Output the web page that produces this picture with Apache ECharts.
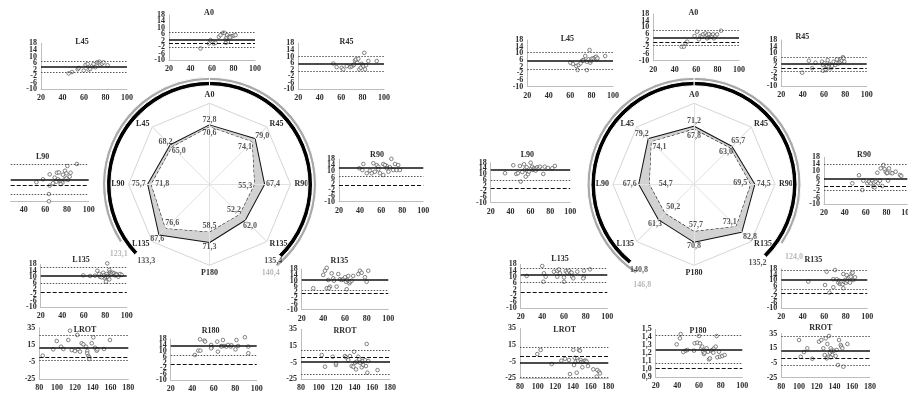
<!DOCTYPE html>
<html>
<head>
<meta charset="utf-8">
<script src="https://cdn.jsdelivr.net/npm/echarts@6/dist/echarts.min.js"></script>
<style>
  html, body { margin: 0; padding: 0; background: #fff; }
  #chart { width: 908px; height: 394px; }
</style>
</head>
<body>
<div id="chart"></div>
<script>
// ---------- radar data (axis order follows the radar, counter-clockwise from the top) ----------
const radarAxes = ['A0', 'L45', 'L90', 'L135', 'P180', 'R135', 'R90', 'R45'];

const leftOuter = [72.8, 68.2, 75.7, 87.6, 71.3, 62.0, 67.4, 79.0];
const leftInner = [70.6, 65.0, 71.8, 76.6, 58.5, 52.2, 55.3, 74.1];
const leftBlackArc = [133.3, 135.4];   // [left side, right side] in degrees from the top
const leftGrayArc = [123.1, 140.4];

const rightOuter = [71.2, 79.2, 67.6, 61.3, 70.8, 82.8, 74.5, 65.7];
const rightInner = [67.8, 74.1, 54.7, 50.2, 57.7, 73.1, 69.5, 63.0];
const rightBlackArc = [140.8, 135.2];
const rightGrayArc = [146.8, 124.0];

// ---------- axis ticks ----------
const diffYTicks = [-10, 18, 4];      // min, max, step
const rotYTicks = [-25, 35, 20];
const ratioYTicks = [0.9, 1.5, 0.1];
const meanXTicks = [20, 100, 20];
const rotXTicks = [80, 180, 20];
const clippedXLabels = [40, 60, 80, 100];

// ---------- Bland-Altman plots: points [mean, difference], lines [bias, upper LoA, lower LoA, reference] ----------
const leftL45Pts = [[45.7,-0.3],[48.8,0.5],[54.1,2.2],[55,3.0],[59.7,1.4],[61.5,4.8],[63.4,5.4],[64.3,2.0],[65.8,2.4],[67.4,4.0],[68.9,5.4],[70.5,3.4],[72,6.4],[73.6,6.0],[74.5,6.8],[75.1,5.0],[76.7,5.6],[78.2,6.4],[81.9,4.6]];
const leftL45Lines = [3.8, 7.3, 0.3, null];

const leftA0Pts = [[49.3,-2.8],[57.1,0.3],[58.6,2.4],[61.7,0.3],[63.3,0.7],[66.4,4.4],[67.9,5.5],[70.4,6.9],[71.6,6.9],[72.6,2.8],[73.5,4.0],[74.1,5.5],[74.8,1.3],[75.7,4.4],[77.3,4.8],[78.8,4.8],[80.4,5.3],[81.9,5.5],[72.9,0.7],[76.7,4.0]];
const leftA0Lines = [2.9, 7.2, -1.9, 0.4];

const leftR45Pts = [[52.7,5.7],[55.8,3.5],[60.5,3.1],[62.0,2.1],[65.2,4.1],[68.3,3.5],[69.9,3.9],[71.4,4.7],[72.0,5.1],[72.9,7.6],[73.9,8.2],[75.1,6.1],[76.0,8.6],[77.0,2.1],[78.3,3.1],[79.2,5.5],[80.1,4.7],[80.7,4.1],[81.6,12.2],[82.3,2.1],[83.2,4.7],[85.4,7.2],[93.2,7.2]];
const leftR45Lines = [5.4, 9.9, 0.7, null];

const leftL90Pts = [[89.1,12.7],[80.3,11.5],[64,6.4],[70.7,7.4],[72.5,7.6],[78.1,8.6],[79.4,7.0],[83.3,7.4],[76.2,6.2],[82.4,5.0],[68.6,4.4],[57.8,3.4],[51.7,1.6],[71.6,3.4],[73.2,2.5],[74.7,1.9],[75.7,1.3],[74.1,0.5],[67.0,1.0],[80.8,3.0],[77.8,3.4],[64.0,-0.5],[63.3,-5.6],[63.3,-10],[70.1,1.9],[79.4,4.0]];
const leftL90Lines = [3.0, 12.5, -5.5, -0.5];

const leftR90Pts = [[69.7,18.3],[43.1,14.9],[39.3,12.1],[52.6,15.4],[55.8,14.2],[57.3,13.1],[62.0,14.9],[65.3,13.6],[46.3,8.8],[49.4,10.5],[51.0,8.8],[54.1,9.8],[57.3,11.4],[58.9,8.8],[63.6,14.2],[65.3,12.1],[68.4,12.7],[71.5,10.9],[73.1,14.9],[74.6,10.9],[76.2,14.2],[77.8,10.9],[66.9,9.8],[62.0,7.6],[42.2,10.9]];
const leftR90Lines = [12.5, 18.5, 6.5, 0.6];

const leftL135Pts = [[59.6,10.8],[65.9,10.4],[70.5,10.6],[72.7,13.8],[74.5,11.7],[75.2,9.9],[76.7,9.5],[78.2,12.5],[78.9,10.8],[79.8,8.9],[80.7,9.9],[81.4,11.7],[81.9,10.4],[82.9,9.5],[83.8,14.3],[84.5,12.8],[85.1,12.1],[86.0,11.7],[87.0,12.5],[88.2,12.1],[89.1,10.8],[90.0,11.7],[90.7,11.1],[92.2,9.9],[93.8,11.7],[95.3,11.1],[81.9,18.6],[83.8,8.2],[80.7,6.7]];
const leftL135Lines = [10.8, 16.0, 5.4, -0.3];

const leftR135Pts = [[30.7,4.7],[39.9,13.9],[41.5,16.8],[43.1,18.8],[44.6,10.4],[46.1,5.8],[49.2,11.6],[49.8,9.9],[52.3,5.8],[53.8,14.5],[55.4,10.9],[56.9,10.4],[58.4,10.9],[60.0,12.3],[60.9,9.2],[61.6,4.0],[62.1,10.4],[63.0,13.2],[64.0,8.1],[64.6,9.2],[66.2,9.9],[67.6,13.2],[72.3,14.5],[73.8,16.8],[75.4,15.4],[78.4,12.3],[80.0,9.2],[81.5,16.8],[43.1,4.7],[45.2,4.7],[47.7,15.0]];
const leftR135Lines = [10.9, 18.8, 3.0, 1.2];

const leftLROTPts = [[83.8,2.3],[95.7,9.7],[99.6,19.4],[104.4,12.8],[107.0,10.1],[112.6,20.6],[114.5,31.5],[116.4,8.9],[120.1,7.7],[122.7,26.5],[123.8,9.7],[125.7,7.0],[127.6,16.8],[129.5,15.6],[132.5,12.8],[133.9,7.7],[133.9,5.0],[135.1,1.9],[136.2,0.4],[136.2,-1.6],[138.9,16.8],[140.7,23.8],[142.6,11.6],[144.5,8.1],[145.2,9.7],[152.7,10.1],[159.4,20.6]];
const leftLROTLines = [11.6, 26.5, -3.6, 0.4];

const leftR180Pts = [[42.5,7.2],[45.7,10.2],[47.6,10.2],[47.3,18],[51.4,17.1],[52.0,16.4],[57.6,14.1],[58.3,12.5],[63.3,16.4],[63.9,9.5],[67.1,13.4],[68.6,17.5],[69.6,13.4],[71.8,13.0],[73.3,14.1],[75.8,13.0],[76.5,13.9],[80.2,11.1],[81.2,17.5],[82.7,13.4],[89.0,19.4],[92.2,13.0],[92.2,8.4],[57.6,11.8],[67.1,13.0]];
const leftR180Lines = [13.4, 19.4, 7.2, 0.8];

const leftRROTPts = [[103.3,4.1],[107.0,-9.9],[115.6,2.1],[119.3,-7.9],[119.3,-5.9],[129.4,2.9],[130.6,1.4],[133.1,-1.9],[135.0,2.9],[136.9,-9.1],[138.8,-9.9],[139.6,8.1],[140.7,-5.1],[141.8,-13.1],[142.6,-3.9],[144.4,2.1],[145.5,-1.0],[146.3,-5.1],[148.2,-10.6],[149.3,-3.1],[150.0,-7.9],[151.9,-1.9],[153.0,-9.1],[153.8,17.4],[154.5,-17.1],[155.6,-3.1],[166,-13.9]];
const leftRROTLines = [-4.2, 10.1, -19.0, 0.9];

const rightL45Pts = [[60.2,4.4],[62.6,3.6],[65.8,2.4],[67.9,3.0],[71.0,5.6],[72.5,6.0],[74.1,8.4],[75.6,0.0],[75.6,5.0],[77.2,6.4],[78.1,12.0],[78.8,4.4],[79.3,5.6],[80.2,6.8],[81.8,7.0],[83.4,7.6],[84.3,8.0],[84.9,6.4],[85.5,7.0],[92.7,8.4],[72.2,5.6],[69.7,4.0],[67.0,0.0]];
const rightL45Lines = [5.4, 10.4, 0.4, null];

const rightA0Pts = [[46.4,-1.6],[48.6,-1.6],[50.1,0.4],[51.6,1.4],[58.5,4.8],[60.9,7.4],[62.5,2.8],[64.1,4.8],[65.6,4.4],[66.5,5.8],[68.7,6.4],[70.2,5.4],[71.8,4.0],[72.7,4.8],[73.4,5.4],[74.9,4.4],[75.8,5.8],[76.5,3.4],[78.0,4.8],[79.5,5.8],[83.3,8.0],[70.2,3.4],[71.8,6.0]];
const rightA0Lines = [3.8, 8.0, -0.6, 0.8];

const rightR45Pts = [[39.5,-1.9],[45.8,5.4],[48.9,0.8],[52.0,4.2],[58.2,4.8],[59.1,2.8],[60.4,3.8],[62.2,-0.3],[62.8,2.2],[63.4,5.8],[64.4,1.8],[65.3,3.4],[66.5,0.8],[67.4,2.2],[69.0,4.8],[70.6,2.8],[71.5,4.2],[72.1,6.2],[73.7,3.8],[75.3,4.8],[75.8,6.2],[76.7,5.4],[77.7,7.5],[78.3,6.9],[79.0,4.8],[59.1,-0.7],[61.3,0.2]];
const rightR45Lines = [3.4, 7.8, -1.3, 0.8];

const rightL90Pts = [[34.4,10.6],[42.7,16.2],[45.7,10.1],[47.4,10.6],[49.4,15.7],[51.8,11.5],[53.5,16.9],[54.5,13.3],[56.2,14.8],[56.8,12.2],[57.5,9.9],[58.5,11.7],[60.2,18],[60.8,14.1],[61.8,15.2],[62.5,12.9],[63.5,14.1],[64.2,13.3],[65.2,12.4],[66.2,13.8],[66.8,14.8],[68.5,14.1],[72.9,10.1],[74.3,15.2],[77.6,14.3],[81.9,14.1],[84.6,15.7],[50.2,4.7],[55.2,8.2],[69.6,15.2]];
const rightL90Lines = [13.3, null, 5.4, 0.1];

const rightR90Pts = [[47.2,2.5],[53.6,7.3],[56.8,-1.5],[57.8,4.1],[61.6,2.5],[63.2,3.5],[64.9,2.5],[66.4,4.1],[67.4,0.5],[68.0,2.9],[68.7,0.1],[69.7,3.5],[71.2,8.8],[71.9,2.5],[73.8,4.1],[74.5,11.4],[76.0,0.9],[77.0,13.4],[78.3,10.9],[79.3,9.4],[80.2,8.5],[80.8,8.8],[81.5,4.1],[82.4,11.4],[84.1,8.8],[85.6,8.5],[88.8,9.4],[93.0,7.5],[94.2,6.9]];
const rightR90Lines = [5.2, 13.8, -1.9, 0.5];

const rightL135Pts = [[25.5,10.6],[39.9,16.9],[41.5,12.3],[43.1,10.1],[50.7,13.3],[53.8,13.9],[55.4,14.8],[56.3,12.3],[61.6,13.7],[63.0,12.7],[64.6,13.9],[66.2,12.7],[72.3,13.3],[78.4,13.9],[84.0,14.8],[53.8,10.1],[60.0,9.7],[67.6,10.1],[78.4,10.1],[40.9,6.9],[60.0,6.9],[67.1,12.7],[68.6,9.1],[77.8,9.1]];
const rightL135Lines = [11.2, 15.8, 6.4, 0.4];

const rightR135Pts = [[45.1,9.0],[60.7,6.6],[62.2,16.1],[64.7,1.2],[68.4,10.7],[70.0,17.3],[71.5,10.7],[73.0,8.3],[74.0,9.7],[74.6,7.3],[75.3,8.3],[76.2,9.0],[77.1,7.1],[77.7,14.4],[78.3,9.0],[79.3,10.2],[80.2,8.3],[80.8,13.7],[81.4,9.7],[82.3,11.4],[83.3,12.1],[83.9,8.3],[84.6,12.5],[85.5,14.9],[86.4,15.4],[87.0,10.2],[88.6,12.1],[77.7,4.3],[68.4,5.0]];
const rightR135Lines = [10.2, 17.3, 3.6, 0.7];

const rightLROTPts = [[99.6,4.1],[103.4,9.0],[115.9,-7.9],[126.8,-3.9],[131.0,-1.5],[135.5,-3.0],[136.6,-19.9],[140.4,9.0],[141.2,-9.1],[142.0,-0.3],[143.1,-5.1],[144.2,-18.3],[144.9,-1.0],[145.7,-3.9],[146.8,9.0],[147.9,8.1],[148.7,-3.0],[149.4,-5.5],[150.6,-11.8],[151.7,-5.1],[153.3,-3.9],[154.4,-3.9],[155.5,-5.1],[157.0,-10.3],[163.0,-14.2],[167.5,-15.0],[166.9,-23.1],[169.5,-17.1],[170.6,-19.1]];
const rightLROTLines = [-5.8, 11.7, -24.3, 0.9];

const rightP180Pts = [[39.4,1.312],[42.4,1.387],[43.1,1.441],[45.5,1.216],[47.7,1.233],[49.2,1.241],[55.4,1.233],[56.0,1.325],[58.4,1.333],[60.0,1.416],[60.9,1.325],[62.1,1.262],[63.0,1.283],[64.0,1.220],[64.6,1.191],[65.2,1.208],[66.2,1.241],[67.1,1.262],[68.3,1.220],[69.2,1.125],[70.1,1.137],[71.3,1.233],[72.3,1.241],[73.2,1.208],[73.8,1.262],[75.4,1.283],[76.3,1.416],[76.9,1.150],[78.4,1.220],[79.4,1.158],[81.5,1.166],[83.7,1.179]];
const rightP180Lines = [1.245, 1.416, 1.075, 1.012];

const rightRROTPts = [[100.0,26.4],[101.9,3.6],[105.6,10.0],[109.3,15.1],[115.0,0.9],[122.5,24.1],[125.1,26.4],[127.4,15.1],[128.9,5.9],[130.1,28.7],[131.9,21.0],[132.7,3.6],[133.8,31.9],[134.9,9.1],[135.7,15.1],[136.4,11.8],[137.5,5.9],[139.4,11.8],[141.3,4.6],[142.5,12.8],[143.9,-7.7],[145.1,26.4],[147.0,19.6],[147.7,17.3],[148.8,15.1],[150.0,-10.0],[154.5,21.0],[135.7,2.8],[131.2,1.4]];
const rightRROTLines = [11.8, 31.7, -8.1, 1.4];

const PLOTS = [
  { title: 'L45',  pts: leftL45Pts,   lines: leftL45Lines,   y: diffYTicks,  x: meanXTicks },
  { title: 'A0',   pts: leftA0Pts,    lines: leftA0Lines,    y: diffYTicks,  x: meanXTicks },
  { title: 'R45',  pts: leftR45Pts,   lines: leftR45Lines,   y: diffYTicks,  x: meanXTicks },
  { title: 'L90',  pts: leftL90Pts,   lines: leftL90Lines,   y: diffYTicks,  x: meanXTicks },
  { title: 'R90',  pts: leftR90Pts,   lines: leftR90Lines,   y: diffYTicks,  x: meanXTicks },
  { title: 'L135', pts: leftL135Pts,  lines: leftL135Lines,  y: diffYTicks,  x: meanXTicks },
  { title: 'R135', pts: leftR135Pts,  lines: leftR135Lines,  y: diffYTicks,  x: meanXTicks },
  { title: 'LROT', pts: leftLROTPts,  lines: leftLROTLines,  y: rotYTicks,   x: rotXTicks },
  { title: 'R180', pts: leftR180Pts,  lines: leftR180Lines,  y: diffYTicks,  x: meanXTicks },
  { title: 'RROT', pts: leftRROTPts,  lines: leftRROTLines,  y: rotYTicks,   x: rotXTicks },
  { title: 'L45',  pts: rightL45Pts,  lines: rightL45Lines,  y: diffYTicks,  x: meanXTicks },
  { title: 'A0',   pts: rightA0Pts,   lines: rightA0Lines,   y: diffYTicks,  x: meanXTicks },
  { title: 'R45',  pts: rightR45Pts,  lines: rightR45Lines,  y: diffYTicks,  x: meanXTicks },
  { title: 'L90',  pts: rightL90Pts,  lines: rightL90Lines,  y: diffYTicks,  x: meanXTicks },
  { title: 'R90',  pts: rightR90Pts,  lines: rightR90Lines,  y: diffYTicks,  x: meanXTicks },
  { title: 'L135', pts: rightL135Pts, lines: rightL135Lines, y: diffYTicks,  x: meanXTicks },
  { title: 'R135', pts: rightR135Pts, lines: rightR135Lines, y: diffYTicks,  x: meanXTicks },
  { title: 'LROT', pts: rightLROTPts, lines: rightLROTLines, y: rotYTicks,   x: rotXTicks },
  { title: 'P180', pts: rightP180Pts, lines: rightP180Lines, y: ratioYTicks, x: meanXTicks },
  { title: 'RROT', pts: rightRROTPts, lines: rightRROTLines, y: rotYTicks,   x: rotXTicks }
];

// ---------- layout: plot boxes [left, top, width, height], title centre [x, y] ----------
const BOXES = [
  { box: [41, 43.3, 86, 46],       title: [82, 41.5] },
  { box: [169, 15, 86, 45],        title: [209, 12.5] },
  { box: [298.3, 43.3, 85.7, 46],  title: [346.5, 41.5] },
  { box: [10.7, 155.3, 78, 46],    title: [42.7, 157.3], clipped: true },
  { box: [339, 159.3, 84.3, 42.4], title: [377, 155] },
  { box: [40.7, 264.3, 86, 43],    title: [81, 260] },
  { box: [301.7, 269, 86.6, 40.5], title: [339.3, 260.7] },
  { box: [39.3, 327.7, 89, 51.3],  title: [85, 329.5] },
  { box: [170.7, 339.3, 86, 40.7], title: [210.7, 331] },
  { box: [301, 329.3, 89, 50],     title: [345, 330.7] },
  { box: [527.3, 40, 85.7, 46.7],  title: [567.3, 39.3] },
  { box: [653.3, 14, 85.7, 46.7],  title: [693.3, 12.7] },
  { box: [781.3, 40, 85.4, 46],    title: [802.3, 37.3] },
  { box: [490.7, 162.7, 79.5, 39.8], title: [527.3, 155] },
  { box: [824, 157.3, 83.3, 47],   title: [864, 155] },
  { box: [520.7, 264.3, 86.6, 44], title: [560, 259.3] },
  { box: [781.3, 269, 86, 39.3],   title: [813.3, 260] },
  { box: [520, 328.3, 88.3, 50],   title: [564.7, 330] },
  { box: [655.7, 329.3, 86.6, 48], title: [698, 330.7] },
  { box: [781.3, 333.7, 88.7, 44], title: [820.7, 328.3] }
];

const RADAR_R = 81;
const LABEL_R = 112;
const BLACK_RING = [98.5, 103];
const GRAY_RING = [103.8, 107];
const RADARS = [
  { center: [209.5, 184.3], outer: leftOuter, inner: leftInner, black: leftBlackArc, gray: leftGrayArc,
    outerOff: [[0,-5],[-5,-3],[-9.5,0],[-2,4.5],[0,4.5],[5,6],[9,0],[7.5,-3]],
    innerOff: [[0,6],[6.5,4],[11,0],[6.5,-5.5],[0,-6],[-5.5,-4],[-9,1.5],[-7,5]],
    arcOff: [[10,8],[-7,5],[-2.5,12],[-6,7]] },
  { center: [694, 184.3], outer: rightOuter, inner: rightInner, black: rightBlackArc, gray: rightGrayArc,
    outerOff: [[0,-5.5],[-7,-5.5],[-9.5,0],[-4,5],[0,4.5],[8.5,5],[9.5,0],[6.5,-5.5]],
    innerOff: [[0,7],[8,5],[16,0],[8,-6],[2,-6],[-6,-4],[-10,-1],[-4,4]],
    arcOff: [[8.6,7.7],[-7.6,7],[6,12],[12.7,13.5]] }
];

const FONT = "'Liberation Serif', 'DejaVu Serif', serif";
const TEXT = '#2b2b2b';
const GRAYARC = '#a9a9a9';
const fmt1 = v => v.toFixed(1).replace('.', ',');

// tick values of an axis, from its [min, max, step] triple
function tickList(t) {
  const out = [];
  const n = Math.round((t[1] - t[0]) / t[2]);
  for (let k = 0; k <= n; k++) out.push(+(t[0] + k * t[2]).toFixed(3));
  return out;
}

const grid = [], xAxis = [], yAxis = [], series = [], graphicEls = [];

PLOTS.forEach((p, i) => {
  const L = BOXES[i];
  const [left, top, width, height] = L.box;
  grid.push({ left, top, width, height, containLabel: false, outerBoundsMode: 'none' });

  const labelStyle = { fontSize: 8, fontWeight: 'bold', fontFamily: FONT, color: TEXT,
                       showMinLabel: true, showMaxLabel: true, hideOverlap: false };
  const xa = {
    gridIndex: i, type: 'value', min: p.x[0], max: p.x[1], interval: p.x[2],
    splitLine: { show: false }, axisTick: { show: false },
    axisLine: { show: true, onZero: false, lineStyle: { color: '#bdbdbd', width: 1 } },
    axisLabel: Object.assign({ margin: 5 }, labelStyle)
  };
  if (L.clipped) {
    xa.min = 28;
    delete xa.interval;
    xa.axisLabel.customValues = clippedXLabels;
  }
  xAxis.push(xa);

  const isRatio = p.y === ratioYTicks;
  const ticks = tickList(p.y);
  const fmtY = v => isRatio ? v.toFixed(1).replace('.', ',') : String(Math.round(v));
  // the tick labels sit closer together than their height, so they are split over two
  // coincident left axes (alternate ticks each) to keep every one of them visible
  [0, 1].forEach(part => {
    yAxis.push({
      gridIndex: i, type: 'value', position: 'left', offset: 0,
      min: p.y[0], max: p.y[1],
      splitLine: { show: false }, axisTick: { show: false },
      axisLine: { show: !L.clipped && part === 0, onZero: false, lineStyle: { color: '#bdbdbd', width: 1 } },
      axisLabel: Object.assign({
        show: !L.clipped, margin: 4, formatter: fmtY,
        customValues: ticks.filter((_, k) => k % 2 === part)
      }, labelStyle)
    });
  });

  const styles = [
    { type: 'solid', color: '#111', width: 1.6 },
    { type: [1.5, 1.5], color: '#555', width: 1.2 },
    { type: [1.5, 1.5], color: '#555', width: 1.2 },
    { type: [4, 2], color: '#111', width: 1.2 }
  ];
  const mlData = [];
  p.lines.forEach((v, k) => {
    if (v !== null) mlData.push({ yAxis: v, lineStyle: styles[k] });
  });

  series.push({
    type: 'scatter', xAxisIndex: i, yAxisIndex: 2 * i, data: p.pts, clip: false,
    symbol: 'circle', symbolSize: 3.6, z: 4,
    itemStyle: { color: '#fff', borderColor: '#555', borderWidth: 0.9 },
    markLine: { silent: true, symbol: ['none', 'none'], animation: false, label: { show: false }, data: mlData }
  });

  graphicEls.push({
    type: 'text', x: L.title[0], y: L.title[1], z: 10,
    style: { text: p.title, font: `bold 8px ${FONT}`, fill: TEXT,
             align: 'center', verticalAlign: 'middle', textAlign: 'center', textVerticalAlign: 'middle' }
  });
});

// ---------- radars, surrounding arcs and value labels ----------
const radar = [], polar = [], angleAxis = [], radiusAxis = [];
const labelMax = 100 * LABEL_R / RADAR_R;

RADARS.forEach((R, k) => {
  radar.push({
    center: R.center, radius: RADAR_R, startAngle: 90, shape: 'polygon', splitNumber: 1, z: 0,
    indicator: radarAxes.map(n => ({ name: n, min: 0, max: 100 })),
    axisName: { color: TEXT, fontSize: 8, fontWeight: 'bold', fontFamily: FONT },
    nameGap: 4,
    splitLine: { lineStyle: { color: '#d6d6d6', width: 1 } },
    splitArea: { show: false },
    axisLine: { lineStyle: { color: '#e2e2e2', width: 1 } }
  });
  // spokes drawn again above the filled polygons
  radar.push({
    center: R.center, radius: RADAR_R, startAngle: 90, shape: 'polygon', splitNumber: 1, z: 3,
    indicator: radarAxes.map(() => ({ name: '', min: 0, max: 100 })),
    axisName: { show: false },
    splitLine: { show: false }, splitArea: { show: false },
    axisLine: { lineStyle: { color: '#e2e2e2', width: 1 } }
  });

  series.push({
    type: 'radar', radarIndex: 2 * k, symbol: 'none', z: 2,
    data: [{ value: R.outer, lineStyle: { color: '#111', width: 2 }, areaStyle: { color: '#d2d2d2', opacity: 1 } }]
  });
  series.push({
    type: 'radar', radarIndex: 2 * k, symbol: 'none', z: 2,
    data: [{ value: R.inner, lineStyle: { color: '#111', width: 1.1, type: [3, 2] }, areaStyle: { color: '#fff', opacity: 1 } }]
  });

  // two rings for the arcs, one polar for the labels
  const base = 3 * k;
  [BLACK_RING, GRAY_RING].forEach((ring, r) => {
    polar.push({ center: R.center, radius: ring });
    angleAxis.push({ polarIndex: base + r, type: 'value', min: 0, max: 360, startAngle: 90, clockwise: true, show: false });
    radiusAxis.push({ polarIndex: base + r, type: 'category', data: ['arc'], show: false });
    const arc = r === 0 ? R.black : R.gray;
    const color = r === 0 ? '#000' : GRAYARC;
    const stack = 'arc' + k + '_' + r;
    const vis = { color, borderColor: '#fff', borderWidth: 1 };
    series.push({ type: 'bar', coordinateSystem: 'polar', polarIndex: base + r, stack, barWidth: '100%', z: 2,
                  data: [arc[1]], itemStyle: vis });
    series.push({ type: 'bar', coordinateSystem: 'polar', polarIndex: base + r, stack, barWidth: '100%', z: 2,
                  data: [360 - arc[0] - arc[1]], itemStyle: { color: 'rgba(0,0,0,0)' } });
    series.push({ type: 'bar', coordinateSystem: 'polar', polarIndex: base + r, stack, barWidth: '100%', z: 2,
                  data: [arc[0]], itemStyle: vis });
  });

  polar.push({ center: R.center, radius: LABEL_R });
  angleAxis.push({ polarIndex: base + 2, type: 'value', min: 0, max: 360, startAngle: 90, clockwise: false, show: false });
  radiusAxis.push({ polarIndex: base + 2, type: 'value', min: 0, max: labelMax, show: false });

  const step = 360 / radarAxes.length;
  const pts = [];
  R.outer.forEach((v, i) => pts.push({ name: fmt1(v), value: [v, i * step], label: { offset: R.outerOff[i] } }));
  R.inner.forEach((v, i) => pts.push({ name: fmt1(v), value: [v, i * step], label: { offset: R.innerOff[i] } }));

  const toUnits = px => px * 100 / RADAR_R;
  const blackR = toUnits((BLACK_RING[0] + BLACK_RING[1]) / 2);
  const grayR = toUnits((GRAY_RING[0] + GRAY_RING[1]) / 2);
  pts.push({ name: fmt1(R.black[0]), value: [blackR, R.black[0]], label: { offset: R.arcOff[0] } });
  pts.push({ name: fmt1(R.black[1]), value: [blackR, 360 - R.black[1]], label: { offset: R.arcOff[1] } });
  pts.push({ name: fmt1(R.gray[0]), value: [grayR, R.gray[0]], label: { offset: R.arcOff[2], color: GRAYARC } });
  pts.push({ name: fmt1(R.gray[1]), value: [grayR, 360 - R.gray[1]], label: { offset: R.arcOff[3], color: GRAYARC } });

  series.push({
    type: 'scatter', coordinateSystem: 'polar', polarIndex: base + 2, symbolSize: 0, z: 6,
    data: pts,
    label: { show: true, position: 'inside', formatter: '{b}', color: TEXT,
             fontSize: 8, fontWeight: 'bold', fontFamily: FONT }
  });
});

const chart = echarts.init(document.getElementById('chart'), null, { renderer: 'canvas' });
chart.setOption({
  animation: false,
  backgroundColor: '#fff',
  textStyle: { fontFamily: FONT },
  grid, xAxis, yAxis, radar, polar, angleAxis, radiusAxis,
  graphic: { elements: graphicEls },
  series
});
</script>
</body>
</html>
